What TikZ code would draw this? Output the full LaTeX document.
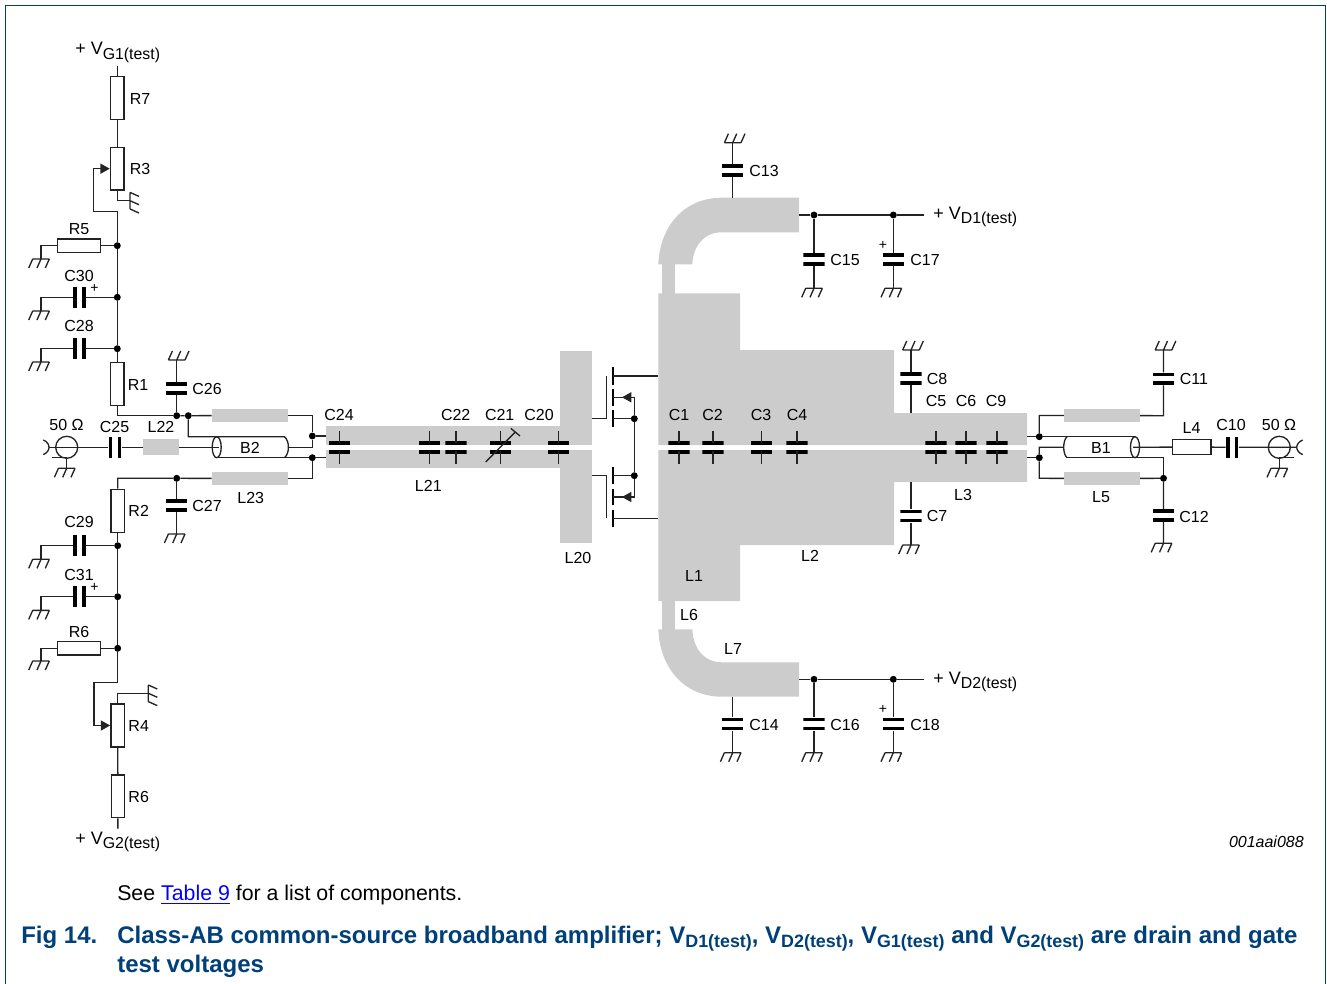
\documentclass[tikz,border=0pt]{standalone}
\usepackage{fontspec}
\setmainfont{Liberation Sans}
\usepackage{xcolor}
\definecolor{stripgray}{RGB}{204,204,204}
\definecolor{wirecol}{RGB}{35,35,35}
\definecolor{nxpblue}{RGB}{0,64,122}
\usepackage{tikz}
\usetikzlibrary{arrows.meta}
\newcommand{\widthres}{9.9pt}
\newcommand{\lengthres}{32.2pt}
\newcommand{\widthplate}{16.1pt}
\newcommand{\widthcap}{9.4pt}
\newcommand{\vtest}[1]{+ V\raisebox{-3.4pt}{\fontsize{11.9}{14}\selectfont #1(test)}}
\newcommand{\vbold}[1]{V\raisebox{-3.6pt}{\fontsize{13.4}{16}\selectfont\bfseries #1(test)}}
\newcommand{\linktext}[1]{\textcolor{blue}{\vtop{\hbox{#1}\kern1.6pt\hrule height 1.2pt}}}
\tikzset{
    wire/.style={draw=wirecol, line width=1pt},
    wiper/.style={wire, -{Triangle[length=7pt, width=7.5pt]}, shorten >=0.2pt},
    chan/.style={draw=black, line width=1.9pt},
    dot/.style={circle, fill=black, inner sep=0pt, minimum size=5.2pt},
    res/.style={wire, fill=white, inner sep=0pt, minimum width=\widthres, minimum height=\lengthres},
    resh/.style={wire, fill=white, inner sep=0pt, minimum width=\lengthres, minimum height=\widthres},
    capv/.style={inner sep=0pt, minimum width=\widthplate, minimum height=\widthcap,
        path picture={
            \fill[black] (path picture bounding box.north west) rectangle ([yshift=-2.8pt]path picture bounding box.north east);
            \fill[black] (path picture bounding box.south west) rectangle ([yshift=2.8pt]path picture bounding box.south east);
        }
    },
    caph/.style={inner sep=0pt, minimum width=\widthcap, minimum height=\widthplate,
        path picture={
            \fill[black] (path picture bounding box.north west) rectangle ([xshift=2.8pt]path picture bounding box.south west);
            \fill[black] (path picture bounding box.north east) rectangle ([xshift=-2.8pt]path picture bounding box.south east);
        }
    },
    capstrip/.style={inner sep=0pt, minimum width=\widthplate, minimum height=24.8pt,
        path picture={
            \fill[black] ([shift={(-8.05pt,2pt)}]path picture bounding box.center) rectangle ([shift={(8.05pt,4.8pt)}]path picture bounding box.center);
            \fill[black] ([shift={(-8.05pt,-2pt)}]path picture bounding box.center) rectangle ([shift={(8.05pt,-4.8pt)}]path picture bounding box.center);
            \draw[wire] ([yshift=3pt]path picture bounding box.center) -- (path picture bounding box.north);
            \draw[wire] ([yshift=-3pt]path picture bounding box.center) -- (path picture bounding box.south);
        }
    },
    strip/.style={fill=stripgray, inner sep=0pt, minimum width=56.8pt, minimum height=9.4pt},
    lbl/.style={inner sep=0pt, font=\fontsize{12}{14}\selectfont},
    plus/.style={inner sep=0pt, font=\fontsize{10.5}{12}\selectfont},
    vlabel/.style={inner sep=0pt, anchor=base west, font=\fontsize{13.5}{16}\selectfont},
    title/.style={inner sep=0pt, anchor=base west, text=nxpblue, font=\fontsize{18}{22}\selectfont\bfseries},
    gnd/.pic={
        \coordinate (-in) at (0,0);
        \draw[wire] (-8.3,0) -- (8.3,0)
            (-8.3,0) -- ++(-4,9)
            (0,0) -- ++(-4,9)
            (8.3,0) -- ++(-4,9);
    }
}
\begin{document}
\begin{tikzpicture}[x=0.75pt,y=-0.75pt]
    \useasboundingbox (0,0) rectangle (1327,984);
    \draw[nxpblue, line width=1.1pt] (5.5,984) -- (5.5,5.5) -- (1325.5,5.5) -- (1325.5,984);

    % board
    \fill[stripgray] (326,426) rectangle (560,445);
    \fill[stripgray] (326,450) rectangle (560,468.3);
    \fill[stripgray] (560,350.7) rectangle (591.7,445);
    \fill[stripgray] (560,450) rectangle (591.7,543.3);
    \fill[stripgray] (658.3,293.3) -- (740,293.3) -- (740,350) -- (894,350) -- (894,413)
        -- (1027,413) -- (1027,445) -- (658.3,445) -- cycle;
    \fill[stripgray] (658.3,450) -- (1027,450) -- (1027,482) -- (894,482) -- (894,545)
        -- (740,545) -- (740,601) -- (658.3,601) -- cycle;
    \fill[stripgray] (661.7,260) rectangle (675,294);
    \fill[stripgray] (661.7,600) rectangle (675,630);
    \fill[stripgray] (658.3,264.3) .. controls (660,225) and (685,197.7) .. (722,197.7) -- (799,197.7)
        -- (799,232.3) -- (722,232.3) .. controls (703,232.3) and (693,247) .. (692.3,264.3) -- cycle;
    \fill[stripgray] (658.3,629.3) .. controls (660,669) and (685,696.7) .. (722,696.7) -- (799,696.7)
        -- (799,662.3) -- (722,662.3) .. controls (703,662.3) and (693,647) .. (692.3,629.3) -- cycle;
    \node[strip] (l-top) at (249.8,415.5) {};
    \node[strip] (l23) at (249.8,478.5) {};
    \node[strip] (l-topr) at (1102,415.5) {};
    \node[strip] (l5) at (1102,478.5) {};
    \node[strip, minimum width=26.7pt, minimum height=12pt] (l22) at (161.2,447.3) {};

    % gate side, top
    \coordinate (vg1) at (117.3,66);
    \node[res] (r7) at (117.3,98.3) {};
    \node[res] (r3) at (117.3,168.7) {};
    \coordinate (w3) at (117.3,211.5);
    \coordinate (w3b) at (93.3,211.5);
    \node[dot] (j5) at (117.3,245.7) {};
    \node[dot] (j30) at (117.3,297.3) {};
    \node[dot] (j28) at (117.3,348.7) {};
    \node[resh] (r5) at (79,245.7) {};
    \node[caph] (c30) at (79.5,297.3) {};
    \node[caph] (c28) at (79.5,348.7) {};
    \node[res] (r1) at (117.3,384) {};
    \node[dot] (j26) at (176.7,415.7) {};
    \node[dot] (j18) at (188.3,415.7) {};
    \node[capv] (c26) at (176.7,388.5) {};
    \foreach \n/\x/\y in {g5/41/259, g30/41/311, g28/41/362, g29/41/559.3, g31/41/610.4, g6/41/661,
        g27/176.7/534, g15/814/288.3, g17/893.3/288.3, g14/732.7/752.7, g16/814/752.7, g18/893.3/752.7,
        g7/911/545, g12/1163.5/543.3, gsl/66.7/468.3, gsr/1279.3/468.3}
        \pic (\n) at (\x,\y) {gnd};
    \foreach \n/\x/\y in {g26/176.7/360, g13/732.7/142.7, g8/911/350, g11/1163.5/350}
        \pic[rotate=180] (\n) at (\x,\y) {gnd};
    \pic[rotate=90] (g3) at (130,200.7) {gnd};
    \pic[rotate=90] (g4) at (148.3,693.3) {gnd};

    \draw[wire] (vg1) -- (r7) -- (r3);
    \draw[wire] (r3) |- (g3-in);
    \draw[wiper] (w3) -- (w3b) |- (r3.west);
    \draw[wire] (w3) -- (j5) -- (j30) -- (j28) -- (r1);
    \draw[wire] (j5) -- (r5) -| (g5-in);
    \draw[wire] (j30) -- (c30) -| (g30-in);
    \draw[wire] (j28) -- (c28) -| (g28-in);
    \draw[wire] (r1) |- (j26);
    \draw[wire] (j26) -- (c26) -- (g26-in);
    \draw[wire] (j26) -- (j18) -- (l-top);

    % gate side, bottom
    \node[res] (r2) at (117.7,510.7) {};
    \node[dot] (j27) at (176.7,478.3) {};
    \node[capv] (c27) at (176.7,505.5) {};
    \node[dot] (j29) at (117.7,545.7) {};
    \node[dot] (j31) at (117.7,596.7) {};
    \node[dot] (j6) at (117.7,648.3) {};
    \node[caph] (c29) at (79.5,545.7) {};
    \node[caph] (c31) at (79.5,596.7) {};
    \node[resh] (r6) at (79,648.3) {};
    \coordinate (w4) at (117.7,682.7);
    \coordinate (w4b) at (94,682.7);
    \node[res] (r4) at (117.7,725.5) {};
    \node[res] (r8) at (117.9,796.3) {};
    \coordinate (vg2) at (117.9,828.7);
    \draw[wire] (l23) -- (j27) -| (r2);
    \draw[wire] (j27) -- (c27) -- (g27-in);
    \draw[wire] (r2) -- (j29) -- (j31) -- (j6) -- (w4);
    \draw[wire] (j29) -- (c29) -| (g29-in);
    \draw[wire] (j31) -- (c31) -| (g31-in);
    \draw[wire] (j6) -- (r6) -| (g6-in);
    \draw[wiper] (w4) -- (w4b) |- (r4.west);
    \draw[wire] (r4) |- (g4-in);
    \draw[wire] (r4) -- (r8) -- (vg2);

    % input
    \node[circle, wire, inner sep=0pt, minimum size=16.5pt] (sl) at (66.7,447.3) {};
    \coordinate (conn-l) at (49,447.3);
    \coordinate (shield-l) at (52.3,457.7);
    \coordinate (shield-lb) at (66.7,457.7);
    \node[caph] (c25) at (115,447.3) {};
    \coordinate (b2-c) at (219,447.3);
    \coordinate (b2-tl) at (216.7,436.7);
    \coordinate (b2-bl) at (216.7,457.7);
    \coordinate (b2-tr) at (284.3,436.7);
    \coordinate (b2-br) at (284.3,457.7);
    \coordinate (b2-mid) at (288.2,447.3);
    \node[dot] (j24a) at (312.3,436) {};
    \node[dot] (j24b) at (312.3,457.7) {};
    \coordinate (in-a) at (326,436);
    \coordinate (in-b) at (326,457.7);
    \draw[wire] (43.3,440) .. controls (47.5,441.5) and (49,445) .. (conn-l)
        .. controls (49,449.6) and (47.5,453) .. (43.3,454.6);
    \draw[wire] (conn-l) -- (c25) -- (l22) -- (b2-c);
    \draw[wire] (shield-l) -- (shield-lb) -- (gsl-in);
    \draw[wire] (b2-bl) -- (j24b);
    \draw[wire] (216.7,447.2) ellipse [x radius=4.5, y radius=10.5];
    \draw[wire] (j18) |- (b2-tl) -- (b2-tr) .. controls (289.8,440.5) and (289.8,454) .. (b2-br);
    \draw[wire] (b2-mid) -| (j24a);
    \draw[wire] (l-top) -| (j24a) -- (in-a);
    \draw[wire] (j24b) |- (l23);
    \draw[wire] (j24b) -- (in-b);

    % strip capacitors
    \foreach \n/\x in {c24/339.7, c22/429.3, c23/456, c21/500.3, c20/558.7, c1/679, c2/713, c3/761.3,
        c4/797, c5/936, c6/966, c9/997}
        \node[capstrip] (\n) at (\x,447.3) {};
    \draw[wire] (485.7,462) -- (515.3,432);
    \draw[wire] (510.7,428.3) -- (520,436);

    % transistors
    \foreach \ya/\yb in {367.3/385, 389.3/405.7, 410/426.7, 467.3/484.3, 488.7/505, 510/526.7}
        \draw[chan] (612.9,\ya) -- (612.9,\yb);
    \coordinate (gt-a) at (591.7,418.7);
    \coordinate (gt-b) at (606.7,376);
    \coordinate (gb-a) at (591.7,475.7);
    \coordinate (gb-b) at (606.7,518.3);
    \coordinate (dt-a) at (612.9,376);
    \coordinate (dt-b) at (658.3,376);
    \coordinate (db-a) at (612.9,518.3);
    \coordinate (db-b) at (658.3,518.3);
    \coordinate (st) at (612.9,418.7);
    \coordinate (sb) at (612.9,475.7);
    \coordinate (bt) at (612.9,397.3);
    \coordinate (bb) at (612.9,497);
    \coordinate (bt-c) at (634.3,397.3);
    \coordinate (bb-c) at (634.3,497);
    \coordinate (bt-tip) at (621.7,397.3);
    \coordinate (bb-tip) at (621.7,497);
    \node[dot] (jst) at (634.3,418.7) {};
    \node[dot] (jsb) at (634.3,475.7) {};
    \draw[wire] (gt-a) -| (gt-b);
    \draw[wire] (gb-a) -| (gb-b);
    \draw[wire] (dt-a) -- (dt-b);
    \draw[wire] (db-a) -- (db-b);
    \draw[wire] (st) -- (jst);
    \draw[wire] (sb) -- (jsb);
    \draw[wire] (bt) -- (bt-c) -- (jst) -- (jsb) -- (bb-c) -- (bb);
    \draw[wiper] (bt-c) -- (bt-tip);
    \draw[wiper] (bb-c) -- (bb-tip);

    % drain side
    \coordinate (d1) at (799,215);
    \coordinate (d2) at (799,679.3);
    \coordinate (vd1) at (924.3,215);
    \coordinate (vd2) at (924.3,679.3);
    \coordinate (t13) at (732.7,197.7);
    \coordinate (t14) at (732.7,696.7);
    \coordinate (t8) at (911,413);
    \coordinate (t7) at (911,482);
    \node[dot] (j15) at (814,215) {};
    \node[dot] (j17) at (893.3,215) {};
    \node[dot] (j16) at (814,679.3) {};
    \node[dot] (j18b) at (893.3,679.3) {};
    \node[capv] (c13) at (732.7,170.3) {};
    \node[capv] (c15) at (814,259.7) {};
    \node[capv] (c17) at (893.3,259.7) {};
    \node[capv] (c14) at (732.7,724) {};
    \node[capv] (c16) at (814,724) {};
    \node[capv] (c18) at (893.3,724) {};
    \node[capv] (c8) at (911,378.5) {};
    \node[capv] (c7) at (911,516) {};
    \draw[wire] (t13) -- (c13) -- (g13-in);
    \draw[wire] (d1) -- (j15) -- (j17) -- (vd1);
    \draw[wire] (j15) -- (c15) -- (g15-in);
    \draw[wire] (j17) -- (c17) -- (g17-in);
    \draw[wire] (t14) -- (c14) -- (g14-in);
    \draw[wire] (d2) -- (j16) -- (j18b) -- (vd2);
    \draw[wire] (j16) -- (c16) -- (g16-in);
    \draw[wire] (j18b) -- (c18) -- (g18-in);
    \draw[wire] (t8) -- (c8) -- (g8-in);
    \draw[wire] (t7) -- (c7) -- (g7-in);

    % output
    \coordinate (out-a) at (1027,436.7);
    \coordinate (out-b) at (1027,457.7);
    \node[dot] (ja) at (1039.3,436.7) {};
    \node[dot] (jb) at (1039.3,457.7) {};
    \coordinate (b1-tl) at (1067,436.7);
    \coordinate (b1-bl) at (1067,457.7);
    \coordinate (b1-tr) at (1135,436.7);
    \coordinate (b1-br) at (1135,457.7);
    \coordinate (b1-mid) at (1063.4,447.3);
    \coordinate (b1-c) at (1133,447.3);
    \coordinate (b1-cr) at (1163.5,457.7);
    \coordinate (jb-d) at (1039.3,478.3);
    \coordinate (c11-b) at (1163.5,415.7);
    \node[dot] (j12) at (1163.5,478.3) {};
    \node[capv] (c11) at (1163.5,378.8) {};
    \node[capv] (c12) at (1163.5,515.5) {};
    \node[resh, minimum width=28.7pt, minimum height=11.5pt] (l4) at (1191.8,447) {};
    \node[caph] (c10) at (1232.2,447.3) {};
    \node[circle, wire, inner sep=0pt, minimum size=16.5pt] (sr) at (1279.3,447.3) {};
    \coordinate (conn-r) at (1296.7,447.3);
    \coordinate (shield-r) at (1294,457.7);
    \coordinate (shield-rb) at (1279.3,457.7);
    \draw[wire] (out-a) -- (ja) -- (b1-tl) -- (b1-tr);
    \draw[wire] (out-b) -- (jb);
    \draw[wire] (ja) |- (l-topr) -- (c11-b) -- (c11) -- (g11-in);
    \draw[wire] (b1-mid) -| (jb) -- (jb-d) -- (l5) -- (j12) -- (c12) -- (g12-in);
    \draw[wire] (b1-bl) -- (b1-cr) -- (j12);
    \draw[wire] (b1-tl) .. controls (1062.6,440.5) and (1062.6,454) .. (b1-bl);
    \draw[wire] (1135,447.2) ellipse [x radius=4.5, y radius=10.5];
    \draw[wire] (b1-c) -- (l4) -- (c10) -- (conn-r);
    \draw[wire] (1302.7,440) .. controls (1298.5,441.5) and (1296.7,445) .. (conn-r)
        .. controls (1296.7,449.6) and (1298.5,453) .. (1302.7,454.6);
    \draw[wire] (shield-r) -- (shield-rb) -- (gsr-in);

    % labels
    \foreach \t/\x/\y in {R7/140/98.8, R3/140/169, R5/79/229, C30/79/275.5, C28/79/326, R1/138/384.5,
        C26/207/388.5, C25/114.5/427, L22/161/427, B2/250/447.5, C24/339/414.5, C22/455.7/414.5,
        C21/499.7/414.5, C20/539/414.5, L21/428.3/485.7, L23/250.7/497.5, R2/138.7/510.7, C27/207/506,
        C29/79/522, C31/79/574.5, R6/79/632, R4/138.7/725.5, L20/578/557.5, C1/679/414.5, C2/712.5/414.5,
        C3/761/414.5, C4/797/414.5, L1/694/575.5, L6/689/614.5, L7/733/648.5, L2/810/555.5,
        C13/764/170.5, C15/845/259.5, C17/925/259.5, C14/764/724.5, C16/845/724.5, C18/925/724.5,
        C8/937/378.5, C7/937/516, C5/936/400.5, C6/966/400.5, C9/996/400.5, L3/963/494.5,
        C11/1194/378.5, C12/1194/516.5, B1/1101/447.5, L5/1101/497.5, L4/1191.5/427.5, C10/1231/425}
        \node[lbl] (lbl-\t) at (\x,\y) {\t};
    \node[lbl] (lbl-r8) at (138.7,796.5) {R6};
    \node[lbl] (lbl-sl) at (66.5,425) {50 Ω};
    \node[lbl] (lbl-sr) at (1279,424.5) {50 Ω};
    \node[plus] (plus30) at (94.5,288) {+};
    \node[plus] (plus31) at (94.5,587.5) {+};
    \node[plus] (plus17) at (883,245) {+};
    \node[plus] (plus18) at (883,709.5) {+};
    \node[vlabel] (lbl-vg1) at (75,55) {\vtest{G1}};
    \node[vlabel] (lbl-vg2) at (75,844) {\vtest{G2}};
    \node[vlabel] (lbl-vd1) at (933,219.3) {\vtest{D1}};
    \node[vlabel] (lbl-vd2) at (933,684) {\vtest{D2}};
    \node[inner sep=0pt, font=\fontsize{12}{14}\selectfont\itshape, anchor=base east] (lbl-code) at (1304,847) {001aai088};

    % caption
    \node[inner sep=0pt, anchor=base west, font=\fontsize{16}{20}\selectfont] (see) at (117,900.5)
        {See \linktext{Table 9} for a list of components.};
    \node[title] (figno) at (21,943) {Fig 14.};
    \node[title] (title1) at (117,943) {Class-AB common-source broadband amplifier; \vbold{D1}, \vbold{D2}, \vbold{G1} and \vbold{G2} are drain and gate};
    \node[title] (title2) at (117,972) {test voltages};
\end{tikzpicture}
\end{document}
